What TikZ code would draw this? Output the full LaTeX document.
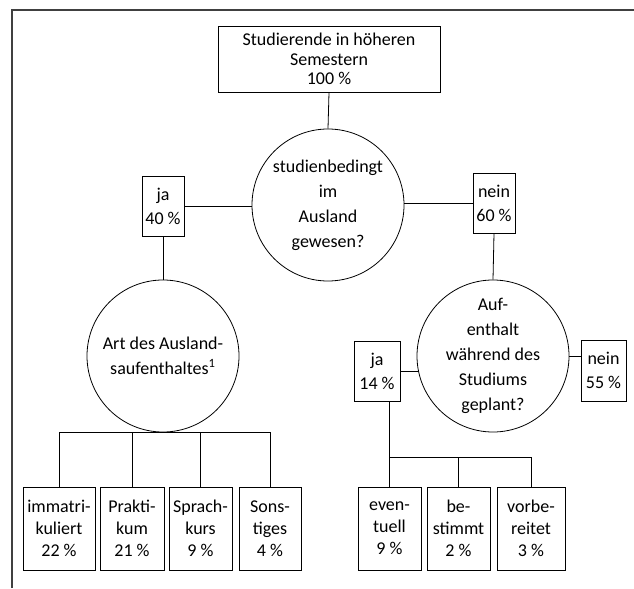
\documentclass[tikz,border=0pt]{standalone}
\usepackage{fontspec}
\setmainfont{Carlito}
\begin{document}
\begin{tikzpicture}[x=0.75pt,y=-0.75pt,line width=0.6pt,
    kasten/.style={draw,rectangle,align=center,inner sep=0pt,font=\fontsize{13.5}{18}\selectfont},
    teil/.style={kasten,minimum height=62.25pt,font=\fontsize{13.5}{16.5}\selectfont},
    kreis/.style={draw,circle,minimum size=114pt,inner sep=0pt,align=center,font=\fontsize{13.5}{18.75}\selectfont}]
    \useasboundingbox (0,0) rectangle (634,588);
    \draw[black!75,line width=1pt] (12,588) -- (12,10) -- (634,10);
    % Fragen
    \node[kasten,minimum width=166.5pt,minimum height=49.5pt,font=\fontsize{13.5}{14.5}\selectfont] (top) at (329,59) {Studierende in höheren\\Semestern\\100~\%};
    \node[kreis] (q_1) at (328,205) {studienbedingt\\im\\Ausland\\gewesen?};
    \node[kreis] (q_2) at (163,356) {Art des Ausland-\\saufenthaltes\textsuperscript{1}};
    \node[kreis] (q_3) at (493,356) {Auf-\\enthalt\\während des\\Studiums\\geplant?};
    % Antworten
    \node[kasten,minimum width=31.5pt,minimum height=45pt] (ja_1) at (163,206) {ja\\40~\%};
    \node[kasten,minimum width=31.5pt,minimum height=45pt] (nein_1) at (494,203) {nein\\60~\%};
    \node[kasten,minimum width=34.5pt,minimum height=45pt] (ja_2) at (377,371) {ja\\14~\%};
    \node[kasten,minimum width=33.75pt,minimum height=45.75pt] (nein_2) at (603.5,370.5) {nein\\55~\%};
    \node[teil,minimum width=54pt] (b_1) at (59,528.5) {immatri-\\kuliert\\22~\%};
    \node[teil,minimum width=48pt] (b_2) at (132,528.5) {Prakti-\\kum\\21~\%};
    \node[teil,minimum width=47.25pt] (b_3) at (200.5,528.5) {Sprach-\\kurs\\9~\%};
    \node[teil,minimum width=46.5pt] (b_4) at (270,528.5) {Sons-\\tiges\\4~\%};
    \node[teil,minimum width=47.25pt] (c_1) at (389.5,528.5) {even-\\tuell\\9~\%};
    \node[teil,minimum width=47.25pt] (c_2) at (458.5,528.5) {be-\\stimmt\\2~\%};
    \node[teil,minimum width=51pt] (c_3) at (531,528.5) {vorbe-\\reitet\\3~\%};
    \coordinate (bus) at (458,457);
    % Linien
    \draw (top.south) -- (q_1.north);
    \draw (ja_1.east) -- (ja_1.east -| q_1.west);
    \draw (nein_1.west) -- (nein_1.west -| q_1.east);
    \draw (ja_1.south) -- (q_2.north);
    \draw (nein_1.south) -- (q_3.north);
    \draw (ja_2.east) -- (ja_2.east -| q_3.191);
    \draw (q_3.east) -- (q_3.east -| nein_2.west);
    \draw (b_1.north) |- (q_2.south) -| (b_4.north);
    \draw (b_2.north) -- (b_2.north |- q_2.south);
    \draw (b_3.north) -- (b_3.north |- q_2.south);
    \draw (c_1.north |- ja_2.south) -- (c_1.north);
    \draw (c_1.north |- bus) -| (c_3.north);
    \draw (c_2.north) -- (c_2.north |- bus);
\end{tikzpicture}
\end{document}
